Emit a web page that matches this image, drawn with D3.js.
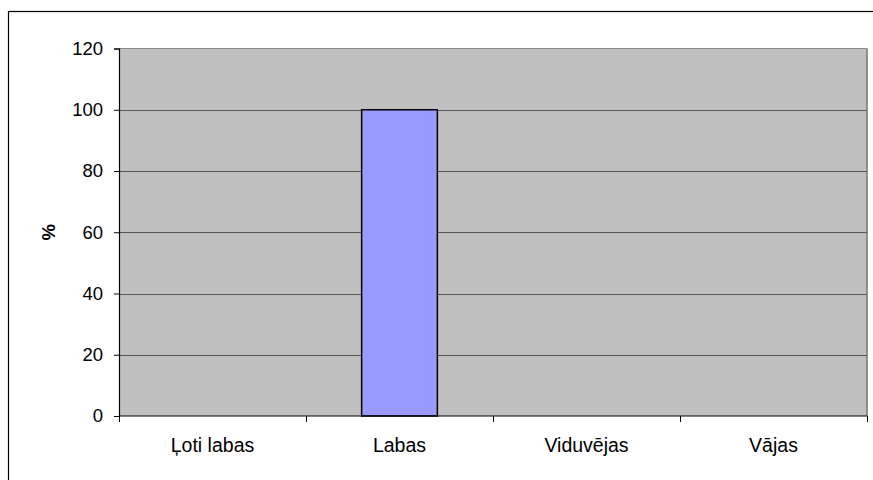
<!DOCTYPE html>
<html>
<head>
<meta charset="utf-8">
<script src="https://cdn.jsdelivr.net/npm/d3@7/dist/d3.min.js"></script>
<style>
  html, body { margin: 0; padding: 0; background: #fff; }
  svg { display: block; font-family: "Liberation Sans", Arial, sans-serif; }
</style>
</head>
<body>
<svg id="chart" width="873" height="480"></svg>
<script>
// Survey result: share of answers per rating
const categories = ["Ļoti labas", "Labas", "Viduvējas", "Vājas"];
const values = [0, 100, 0, 0];
const yTicks = [0, 20, 40, 60, 80, 100, 120];
const yLabel = "%";

const svg = d3.select("#chart");
const W = 873, H = 480;
const plot = { left: 119, right: 867, top: 48.5, bottom: 416 };

// outer chart frame (runs off the right and bottom edges)
svg.append("rect")
  .attr("x", 8.5).attr("y", 11.5)
  .attr("width", W).attr("height", H)
  .attr("fill", "#fff").attr("stroke", "#000").attr("stroke-width", 1.2);

const x = d3.scaleBand().domain(categories).range([plot.left, plot.right]).padding(0);
const y = d3.scaleLinear().domain([0, 120]).range([plot.bottom, plot.top]);

// plot background
svg.append("rect")
  .attr("x", plot.left).attr("y", plot.top)
  .attr("width", plot.right - plot.left).attr("height", plot.bottom - plot.top)
  .attr("fill", "#c0c0c0");

// top and right plot border
svg.append("line")
  .attr("x1", plot.left).attr("x2", plot.right)
  .attr("y1", plot.top).attr("y2", plot.top)
  .attr("stroke", "#8a8a8a").attr("stroke-width", 1.2);
svg.append("line")
  .attr("x1", plot.right).attr("x2", plot.right)
  .attr("y1", plot.top).attr("y2", plot.bottom)
  .attr("stroke", "#7a7a7a").attr("stroke-width", 1.6);

// horizontal gridlines
svg.append("g")
  .selectAll("line")
  .data(yTicks.filter(t => t > 0 && t < 120))
  .join("line")
  .attr("x1", plot.left).attr("x2", plot.right)
  .attr("y1", d => Math.round(y(d)) + 0.5).attr("y2", d => Math.round(y(d)) + 0.5)
  .attr("stroke", "#555").attr("stroke-width", 1.2);

// bars
const barW = x.bandwidth() * 0.405;
svg.append("g")
  .selectAll("rect")
  .data(categories.map((c, i) => ({ c, v: values[i] })).filter(d => d.v > 0))
  .join("rect")
  .attr("x", d => x(d.c) + (x.bandwidth() - barW) / 2)
  .attr("y", d => y(d.v))
  .attr("width", barW)
  .attr("height", d => y(0) - y(d.v))
  .attr("fill", "#9999ff")
  .attr("stroke", "#000").attr("stroke-width", 1.5);

// y axis
const yAxis = svg.append("g")
  .attr("transform", `translate(${plot.left},0)`)
  .call(d3.axisLeft(y).tickValues(yTicks).tickSize(5).tickPadding(11));
yAxis.select(".domain").attr("stroke", "#000").attr("stroke-width", 1.2);
yAxis.selectAll(".tick line").attr("stroke", "#000");
yAxis.selectAll(".tick text")
  .attr("font-size", 18.5).attr("fill", "#000")
  .attr("font-family", "Liberation Sans, Arial, sans-serif");

// x axis with ticks at category boundaries
const xAxis = svg.append("g")
  .attr("transform", `translate(0,${plot.bottom})`);
xAxis.append("line")
  .attr("x1", plot.left).attr("x2", plot.right)
  .attr("y1", 0).attr("y2", 0)
  .attr("stroke", "#000").attr("stroke-width", 1.2);
const bounds = categories.map(c => x(c)).concat([x(categories[categories.length - 1]) + x.bandwidth()]);
xAxis.selectAll("line.tick")
  .data(bounds)
  .join("line")
  .attr("class", "tick")
  .attr("x1", d => Math.round(d) + 0.5).attr("x2", d => Math.round(d) + 0.5)
  .attr("y1", 0).attr("y2", 6)
  .attr("stroke", "#000");
xAxis.selectAll("text")
  .data(categories)
  .join("text")
  .attr("x", d => x(d) + x.bandwidth() / 2)
  .attr("y", 35.5)
  .attr("text-anchor", "middle")
  .attr("font-size", 19.5)
  .attr("fill", "#000")
  .text(d => d);

// y axis title
svg.append("text")
  .attr("transform", `translate(55,${(plot.top + plot.bottom) / 2}) rotate(-90)`)
  .attr("text-anchor", "middle")
  .attr("font-size", 18.5)
  .attr("font-weight", "bold")
  .attr("fill", "#000")
  .text(yLabel);
</script>
</body>
</html>
